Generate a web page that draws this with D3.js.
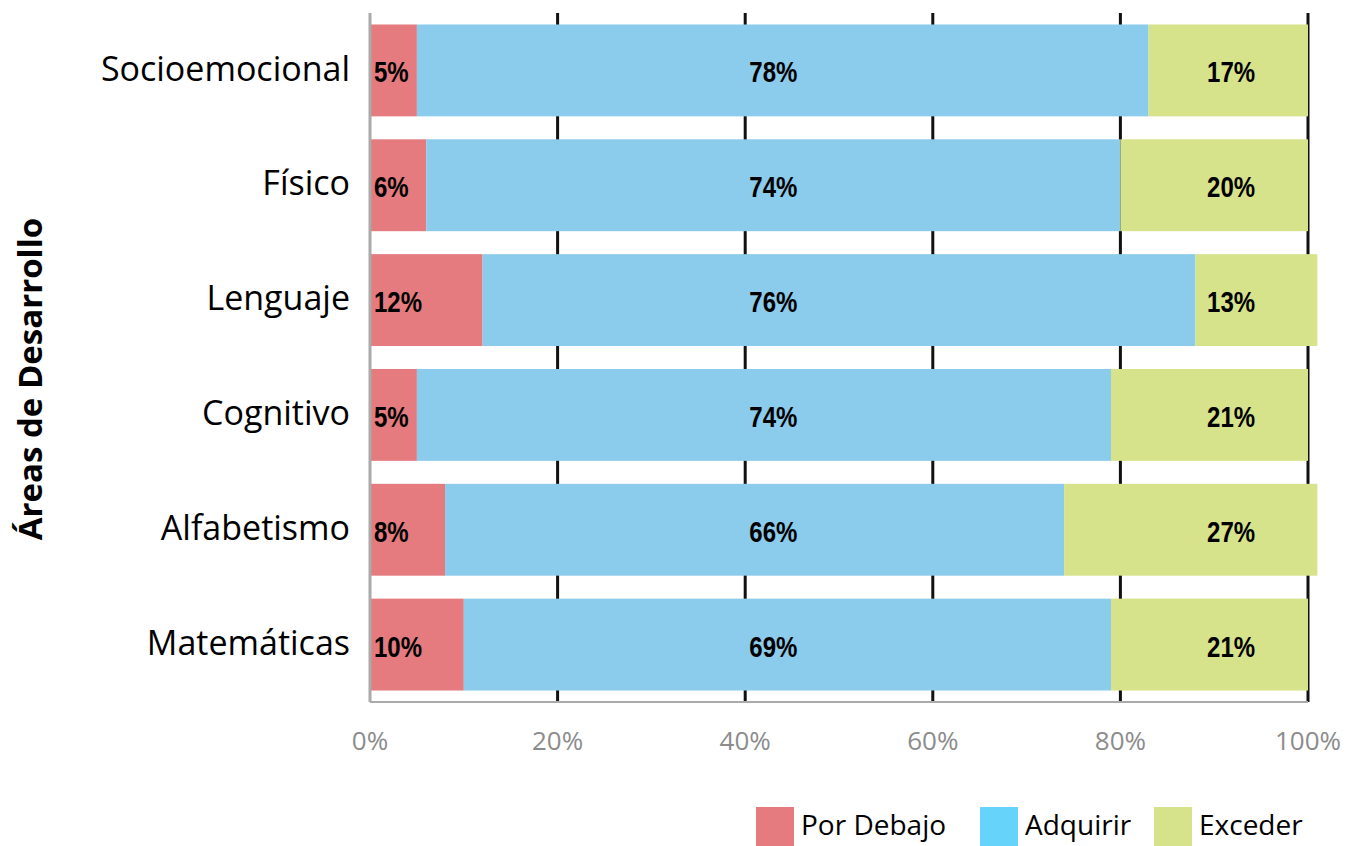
<!DOCTYPE html>
<html><head><meta charset="utf-8">
<script src="https://cdn.jsdelivr.net/npm/d3@7"></script>
<style>
body{margin:0;background:#fff;}
svg{display:block;}
</style></head>
<body>
<svg id="chart" width="1354" height="846"></svg>
<script>
const categories = ["Socioemocional","Físico","Lenguaje","Cognitivo","Alfabetismo","Matemáticas"];
const seriesNames = ["Por Debajo","Adquirir","Exceder"];
const porDebajo = [5,6,12,5,8,10];
const adquirir  = [78,74,76,74,66,69];
const exceder   = [17,20,13,21,27,21];
const xTicks = [0,20,40,60,80,100];
const tickLabels = ["0%","20%","40%","60%","80%","100%"];
const yTitle = "Áreas de Desarrollo";

const barColors = ["#E57B7E","#8BCBEB","#D7E38A"];
const legendColors = ["#E57B7E","#66D4FA","#D7E38A"];

const svg = d3.select("#chart");
const x = d3.scaleLinear().domain([0,100]).range([370,1308]);
const y = d3.scaleBand().domain(categories).range([13,702]).paddingInner(0.2).paddingOuter(0.1);

const rows = categories.map((c,i)=>({cat:c, vals:[porDebajo[i],adquirir[i],exceder[i]]}));

// gridlines
svg.append("g").selectAll("line").data(xTicks.slice(1)).join("line")
  .attr("x1",d=>x(d)).attr("x2",d=>x(d)).attr("y1",13).attr("y2",702)
  .attr("stroke","#111").attr("stroke-width",3);

// bars
rows.forEach(r=>{
  let acc=0;
  const segs = r.vals.map((v,k)=>{const s={k,x0:acc,x1:acc+v,v}; acc+=v; return s;});
  const g = svg.append("g");
  g.selectAll("rect").data(segs).join("rect")
    .attr("x",d=>x(d.x0)).attr("width",d=>x(d.x1)-x(d.x0))
    .attr("y",y(r.cat)).attr("height",y.bandwidth())
    .attr("fill",d=>barColors[d.k]);
  const lx = [d=>x(0)+4, d=>x(43), d=>x(91.8)];
  const anchor = ["start","middle","middle"];
  g.selectAll("text").data(segs).join("text")
    .attr("transform",d=>`translate(${lx[d.k](d)},${y(r.cat)+y.bandwidth()/2+4}) scale(0.8,1)`)
    .attr("text-anchor",d=>anchor[d.k]).attr("dominant-baseline","middle")
    .attr("font-family","'Liberation Sans',Arial,sans-serif")
    .attr("font-weight","bold").attr("font-size",30).attr("fill","#000")
    .text(d=>d.v+"%");
});

// axes lines (grey)
svg.append("line").attr("x1",x(0)).attr("x2",x(0)).attr("y1",13).attr("y2",702)
  .attr("stroke","#aaa").attr("stroke-width",3);
svg.append("line").attr("x1",x(0)).attr("x2",x(100)).attr("y1",702).attr("y2",702)
  .attr("stroke","#aaa").attr("stroke-width",2);

// x tick labels
svg.append("g").selectAll("text").data(xTicks).join("text")
  .attr("x",d=>x(d)).attr("y",750).attr("text-anchor","middle")
  .attr("font-family","'Open Sans',sans-serif").attr("font-size",26).attr("fill","#8c8c8c")
  .text((d,i)=>tickLabels[i]);

// category labels
svg.append("g").selectAll("text").data(categories).join("text")
  .attr("x",350).attr("y",d=>y(d)+y.bandwidth()/2+1).attr("text-anchor","end")
  .attr("dominant-baseline","middle")
  .attr("font-family","'Open Sans',sans-serif").attr("font-size",34).attr("fill","#000")
  .text(d=>d);

// y title
svg.append("text").attr("transform","translate(42,379) rotate(-90)")
  .attr("text-anchor","middle").attr("font-family","'Open Sans',sans-serif")
  .attr("font-weight","bold").attr("font-size",33).attr("fill","#000").text(yTitle);

// legend
const legX = [756,980,1154];
const lg = svg.append("g").selectAll("g").data(seriesNames).join("g")
  .attr("transform",(d,i)=>`translate(${legX[i]},807)`);
lg.append("rect").attr("width",38).attr("height",39).attr("fill",(d,i)=>legendColors[i]);
lg.append("text").attr("x",45).attr("y",21).attr("dominant-baseline","middle")
  .attr("font-family","'Open Sans',sans-serif").attr("font-size",28).attr("fill","#000").text(d=>d);
</script>
</body></html>
